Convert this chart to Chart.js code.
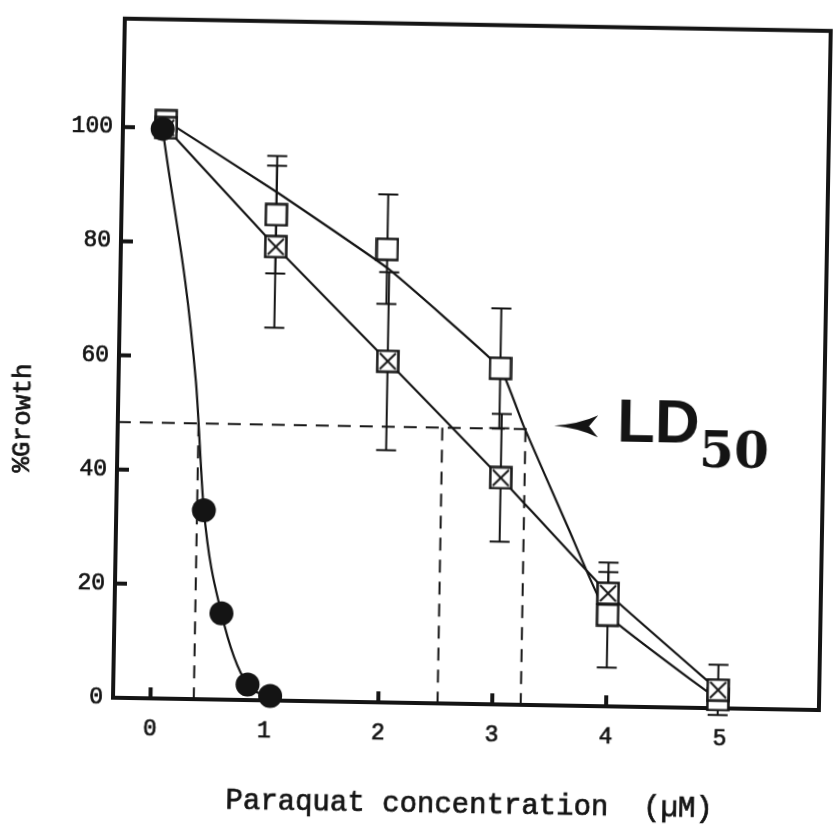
<!DOCTYPE html>
<html lang="en">
<head>
  <meta charset="UTF-8">
  <title>Paraquat growth</title>
  <script src="https://cdn.jsdelivr.net/npm/chart.js"></script>
  <style>
    body {
      margin: 0;
      background: #fff;
      overflow: hidden;
    }
    #wrap {
      width: 836px;
      height: 827px;
    }
    /* the scanned figure sits about one degree askew */
    #cvs {
      transform: rotate(1deg);
      transform-origin: 418px 413.5px;
    }
  </style>
</head>
<body>

<div id="wrap"><canvas id="cvs" width="836" height="827"></canvas></div>

<script>
// values
const circX = [0.02, 0.44, 0.61, 0.85, 1.05];
const circY = [99.8, 33.1, 15.1, 2.7, 0.8];
// hand-drawn curve through the filled circles
const circFitX = [0.02, 0.35, 0.44, 0.61, 0.85, 1.05];
const circFitY = [99.8, 55.7, 33.1, 15.1, 2.7, 0.8];

const openX = [0.05, 1.03, 2.01, 3.02, 4.00, 4.98];
const openY = [101.2, 85.1, 79.4, 58.9, 16.0, 1.5];
const openErr = [0, 10.3, 9.6, 10.5, 9.2, 0];
// hand-drawn curve for the open squares (does not pass through every point)
const openFitX = [0.05, 1.03, 2.02, 3.02, 3.23, 3.65, 4.00, 4.98];
const openFitY = [101.2, 89.1, 76.0, 58.9, 49.0, 30.7, 16.0, 1.5];

const crossX = [0.05, 1.03, 2.03, 3.04, 4.00, 4.98];
const crossY = [100, 79.5, 59.8, 39.7, 19.8, 3.2];
const crossErr = [0, 14.2, 15.6, 11.2, 3.7, 4.4];

const ld50Level = 48.3;
const ld50Doses = [0.38, 2.52, 3.25];
const arrowTip = [3.50, 49.0];

const xTicks = [0, 1, 2, 3, 4, 5];
const yTicks = [0, 20, 40, 60, 80, 100];
const xMin = -0.329, xMax = 5.868;
const yMin = 0, yMax = 119.0;

const INK = '#141414';

(() => {
  const pts = (xs, ys) => xs.map((x, i) => ({ x, y: ys[i] }));

  // square markers (open and crossed)
  function squareMarker(crossed) {
    const c = document.createElement('canvas');
    c.width = 24; c.height = 24;
    const g = c.getContext('2d');
    g.fillStyle = '#fff';
    g.fillRect(1, 1, 22, 22);
    g.strokeStyle = INK;
    g.lineWidth = 2.5;
    g.strokeRect(1.5, 1.5, 21, 21);
    if (crossed) {
      g.lineWidth = 2;
      g.beginPath();
      g.moveTo(4, 4); g.lineTo(20, 20);
      g.moveTo(20, 4); g.lineTo(4, 20);
      g.stroke();
    }
    return c;
  }
  const openMark = squareMarker(false);
  const crossMark = squareMarker(true);

  // dashed LD50 guides
  const dashSets = [
    [{ x: xMin, y: ld50Level }, { x: ld50Doses[2] + 0.02, y: ld50Level }],
    ...ld50Doses.map(d => [{ x: d, y: ld50Level }, { x: d, y: 0 }])
  ].map(data => ({
    data, borderColor: INK, borderWidth: 2, borderDash: [13, 9],
    pointRadius: 0, fill: false, order: 30, clip: false
  }));

  const lineDs = (data, mono, tension) => ({
    data, borderColor: INK, borderWidth: 2.2, pointRadius: 0,
    cubicInterpolationMode: mono ? 'monotone' : 'default',
    tension: tension || 0, fill: false, order: 20, clip: false
  });
  const markDs = (data, style, order) => ({
    data, showLine: false, pointStyle: style, pointRadius: 12,
    pointBackgroundColor: INK, pointBorderColor: INK, pointBorderWidth: 0,
    order, clip: false
  });

  const errSets = [
    { xs: openX, ys: openY, err: openErr },
    { xs: crossX, ys: crossY, err: crossErr }
  ];

  // typewriter text: regular face with a thin outline to thicken it a bit
  function typeText(ctx, txt, x, y) {
    ctx.fillText(txt, x, y);
    ctx.strokeText(txt, x, y);
  }

  const framePlugin = {
    id: 'frame',
    beforeDatasetsDraw(chart) {
      const { ctx, chartArea: a, scales: { x, y } } = chart;
      ctx.save();
      // error bars
      ctx.strokeStyle = INK;
      ctx.lineWidth = 2;
      errSets.forEach(s => {
        s.xs.forEach((v, i) => {
          if (!s.err[i]) return;
          const px = x.getPixelForValue(v);
          const top = y.getPixelForValue(s.ys[i] + s.err[i]);
          const bot = y.getPixelForValue(s.ys[i] - s.err[i]);
          ctx.beginPath();
          ctx.moveTo(px, top); ctx.lineTo(px, bot);
          ctx.moveTo(px - 10, top); ctx.lineTo(px + 10, top);
          ctx.moveTo(px - 10, bot); ctx.lineTo(px + 10, bot);
          ctx.stroke();
        });
      });
      // frame
      ctx.lineWidth = 4;
      ctx.strokeRect(a.left, a.top, a.right - a.left, a.bottom - a.top);
      // inward tick marks
      ctx.beginPath();
      xTicks.forEach(v => {
        const px = x.getPixelForValue(v);
        ctx.moveTo(px, a.bottom); ctx.lineTo(px, a.bottom - 11);
      });
      yTicks.filter(v => v > 0).forEach(v => {
        const py = y.getPixelForValue(v);
        ctx.moveTo(a.left, py); ctx.lineTo(a.left + 12, py);
      });
      ctx.stroke();
      ctx.restore();
    },
    afterDraw(chart) {
      const { ctx, scales: { x, y } } = chart;
      ctx.save();
      ctx.fillStyle = INK;
      ctx.strokeStyle = INK;
      ctx.lineWidth = 0.7;
      // axis titles
      ctx.font = '29px "Liberation Mono"';
      ctx.textAlign = 'center';
      ctx.textBaseline = 'middle';
      typeText(ctx, 'Paraquat concentration  (\u00b5M)', 476, 804);
      ctx.save();
      ctx.translate(23, 425);
      ctx.rotate(-Math.PI / 2);
      ctx.font = '26px "Liberation Mono"';
      typeText(ctx, '%Growth', 0, 0);
      ctx.restore();

      // LD50 arrow + label
      const tx = x.getPixelForValue(arrowTip[0]);
      const ty = y.getPixelForValue(arrowTip[1]);
      ctx.beginPath();
      ctx.moveTo(tx, ty);
      ctx.quadraticCurveTo(tx + 25, ty - 2, tx + 44, ty - 11);
      ctx.lineTo(tx + 35, ty);
      ctx.lineTo(tx + 44, ty + 11);
      ctx.quadraticCurveTo(tx + 25, ty + 2, tx, ty);
      ctx.fill();

      ctx.textAlign = 'left';
      ctx.textBaseline = 'alphabetic';
      ctx.font = 'bold 62px "Liberation Sans"';
      ctx.fillText('LD', tx + 63, ty + 15);
      const w = ctx.measureText('LD').width;
      ctx.font = 'bold 50px "DejaVu Serif"';
      ctx.fillText('50', tx + 63 + w, ty + 39);
      ctx.restore();
    }
  };

  const tickFont = { family: '"Liberation Mono"', size: 23 };

  new Chart(document.getElementById('cvs'), {
    type: 'line',
    data: {
      datasets: [
        ...dashSets,
        lineDs(pts(openFitX, openFitY), false, 0.1),
        lineDs(pts(crossX, crossY), false, 0.1),
        lineDs(pts(circFitX, circFitY), true),
        markDs(pts(openX, openY), openMark, 3),
        markDs(pts(crossX, crossY), crossMark, 2),
        markDs(pts(circX, circY), 'circle', 1)
      ]
    },
    options: {
      responsive: false,
      animation: false,
      devicePixelRatio: 1,
      layout: { padding: { left: 0, right: 6, top: 21, bottom: 0 } },
      plugins: { legend: { display: false }, tooltip: { enabled: false } },
      scales: {
        x: {
          type: 'linear', min: xMin, max: xMax,
          grid: { display: false, drawTicks: false },
          border: { display: false },
          afterBuildTicks: s => { s.ticks = xTicks.map(v => ({ value: v })); },
          afterFit: s => { s.height = 124; },
          ticks: {
            padding: 17, color: INK, maxRotation: 0, font: tickFont,
            textStrokeColor: INK, textStrokeWidth: 0.7
          }
        },
        y: {
          type: 'linear', min: yMin, max: yMax,
          grid: { display: false, drawTicks: false },
          border: { display: false },
          afterBuildTicks: s => { s.ticks = yTicks.map(v => ({ value: v })); },
          afterFit: s => { s.width = 118; },
          ticks: {
            padding: 10, color: INK, font: tickFont,
            textStrokeColor: INK, textStrokeWidth: 0.7
          }
        }
      }
    },
    plugins: [framePlugin]
  });
})();
</script>

</body>
</html>
